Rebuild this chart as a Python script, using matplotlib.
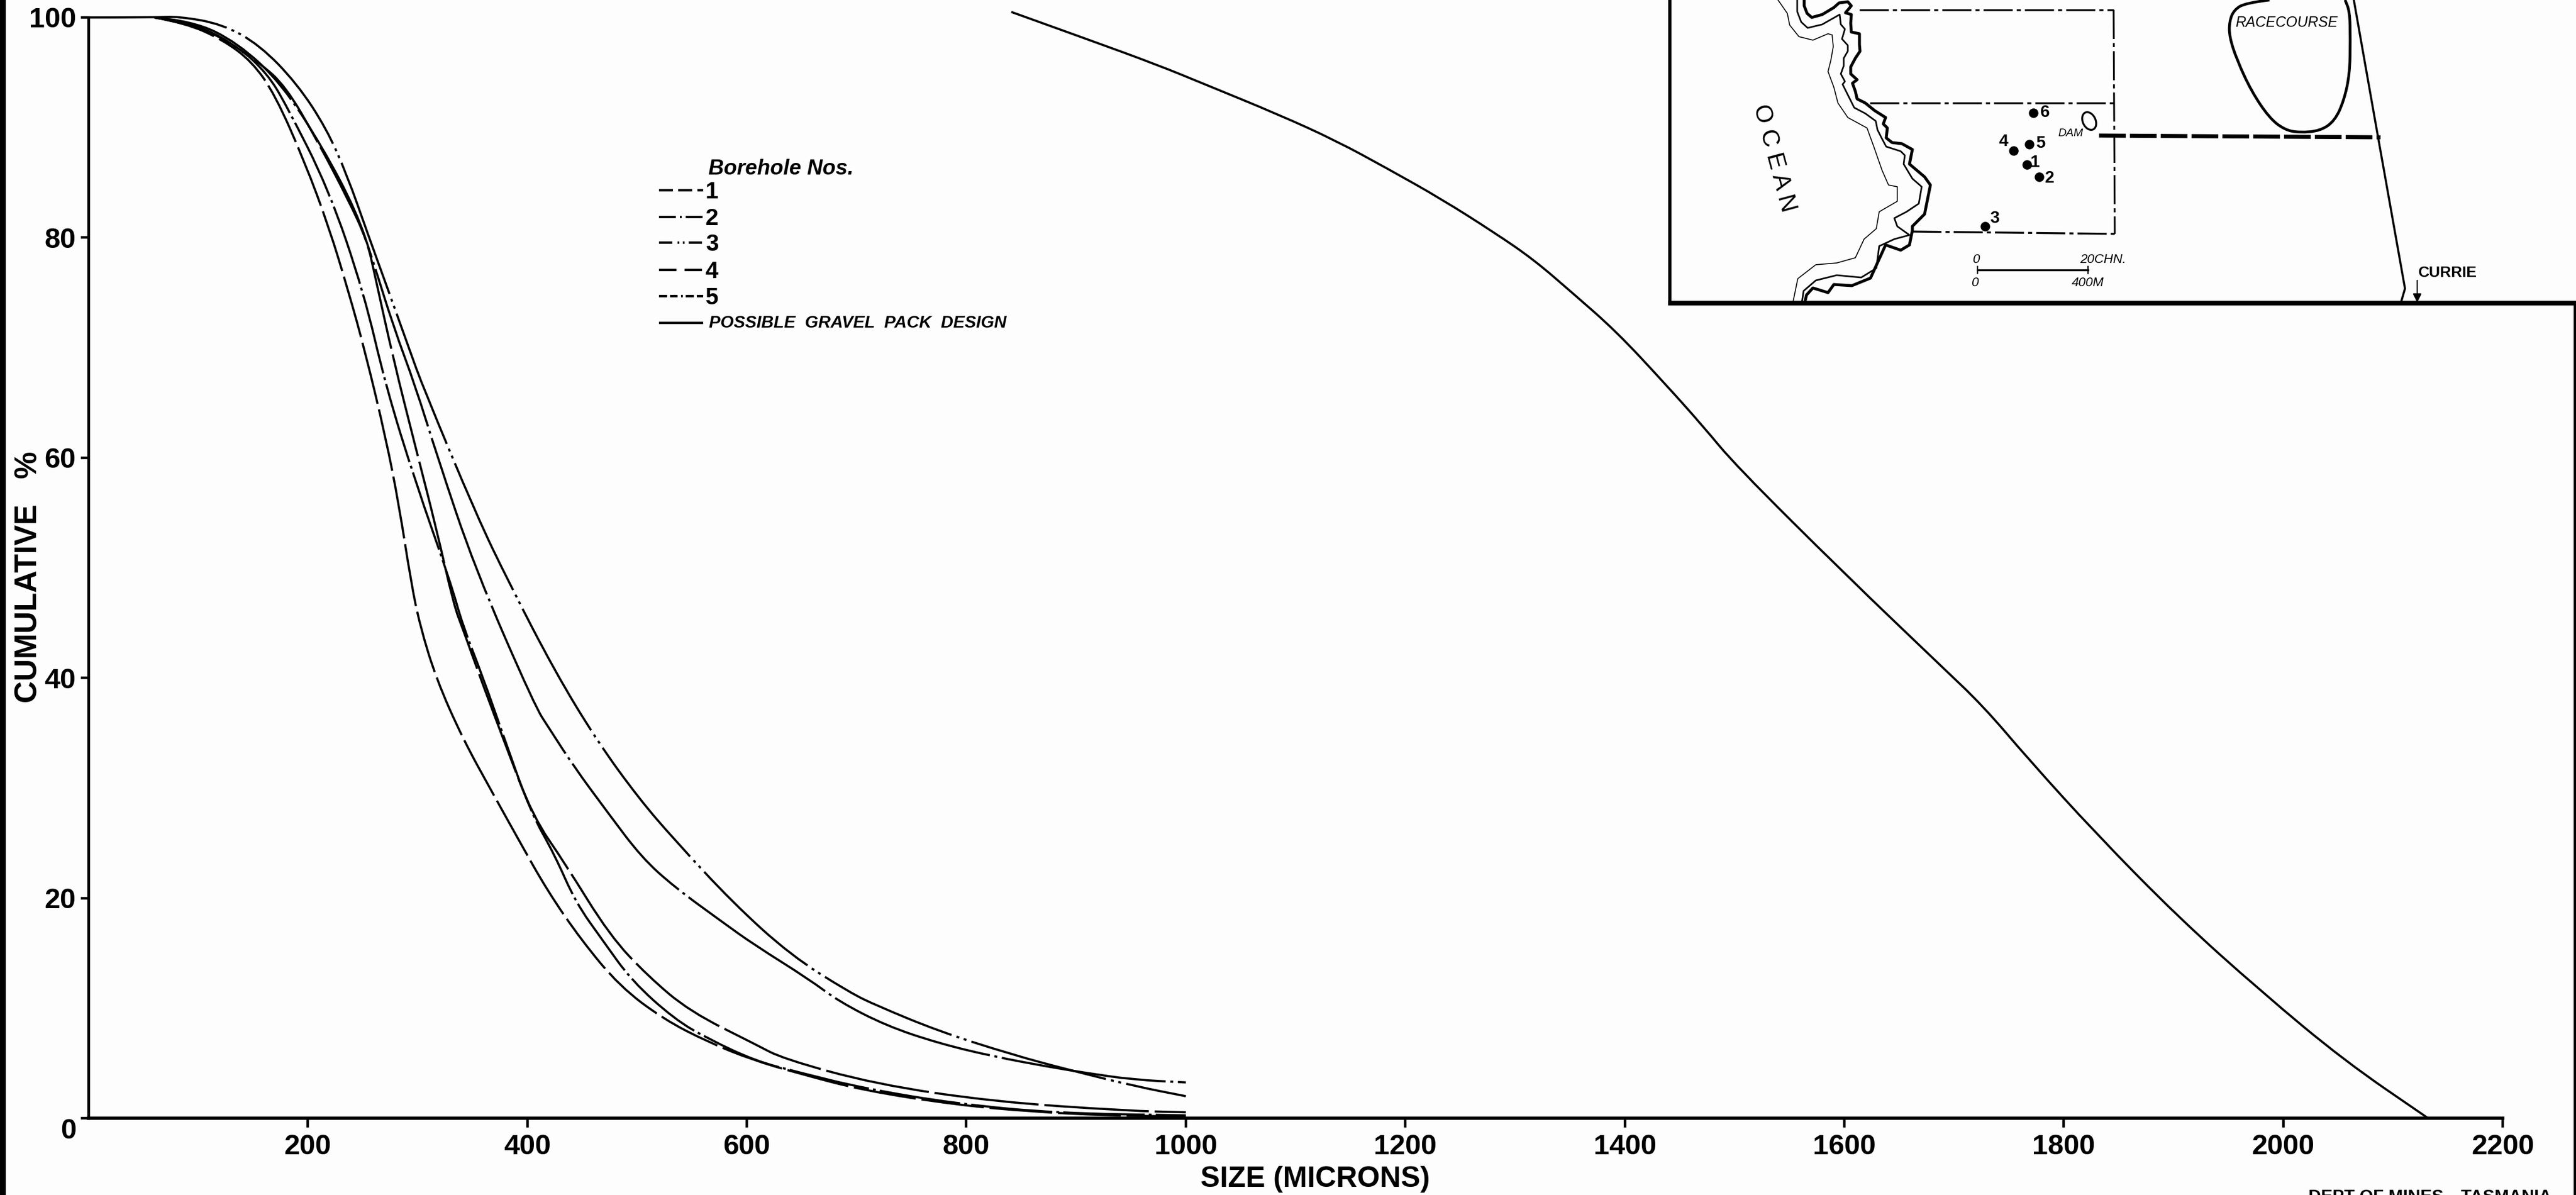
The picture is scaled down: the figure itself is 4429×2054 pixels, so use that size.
"""
Grading curves for the Currie boreholes, with the possible gravel pack design
and a small location map in the top right corner.
"""

import matplotlib
matplotlib.use("Agg")

import matplotlib.pyplot as plt
from matplotlib.patches import Ellipse, PathPatch, Rectangle
from matplotlib.path import Path

FONT = ["Liberation Sans", "DejaVu Sans"]

plt.rcParams["lines.scale_dashes"] = False

W, H = 4429, 2054
PT = 0.72  # pixels to points at dpi 100
PAPER = "#fdfdfd"

# -----------------------------
# Curves (size in microns, cumulative %)
# -----------------------------

size_bh1 = [60, 100, 156, 180, 207, 237, 254, 261, 278, 298, 317, 333, 341, 359, 379, 405, 434, 475, 510, 548, 608, 633, 717, 825, 947, 1000]
pct_bh1 = [100, 99.6, 95.9, 93.7, 89.1, 83.4, 79.7, 76.6, 68.9, 61, 53.6, 46.6, 44.5, 39.5, 34.2, 27.4, 23.2, 16.6, 12.9, 9.7, 6.7, 5.4, 3.1, 1.5, 0.67, 0.54]

size_bh2 = [60, 95, 136, 176, 214, 244, 259, 278, 298, 318, 352, 407, 420, 442, 473, 504, 534, 578, 606, 657, 684, 727, 775, 825, 876, 910, 952, 1000]
pct_bh2 = [100, 99.7, 97.7, 94, 88.1, 82.4, 78, 71.9, 66.5, 60.1, 50, 37.4, 35.4, 32, 27.8, 23.7, 21, 17.8, 15.8, 12.6, 10.6, 8.4, 6.8, 5.6, 4.65, 4.1, 3.5, 3.25]

size_bh3 = [0, 60, 82, 122, 156, 190, 217, 236, 254, 274, 293, 305, 354, 383, 425, 464, 502, 534, 587, 640, 694, 719, 775, 841, 893, 954, 1000]
pct_bh3 = [100, 100, 100.1, 99.4, 97.5, 94, 89.9, 85.6, 80.5, 75, 69.7, 66.4, 54.7, 48.7, 40.6, 34.2, 29, 25.3, 19.6, 14.8, 11.4, 10.2, 7.9, 5.8, 4.4, 2.9, 2.0]

size_bh4 = [60, 88, 122, 149, 170, 197, 219, 237, 252, 271, 283, 294, 302, 317, 341, 368, 392, 418, 449, 484, 524, 565, 605, 646, 707, 792, 859, 927, 1000]
pct_bh4 = [100, 99.5, 98, 96, 93, 86.9, 81, 75.1, 69.7, 61.8, 55.7, 48.7, 44.8, 39.9, 34.5, 29.6, 25.3, 20.7, 16.2, 12, 9, 6.9, 5.3, 4.1, 2.5, 1.2, 0.6, 0.25, 0.15]

size_bh5 = [60, 95, 136, 163, 180, 219, 251, 271, 298, 330, 341, 359, 379, 403, 425, 444, 469, 495, 534, 565, 608, 646, 707, 792, 883, 1000]
pct_bh5 = [100, 99.4, 97.4, 94.9, 92.1, 84.4, 75, 66.5, 57.8, 48.7, 44.8, 40.2, 34.5, 27.8, 23.9, 19.6, 16.1, 12.5, 9, 7.2, 5.2, 4.2, 2.7, 1.3, 0.45, 0.26]

size_design = [841, 908, 974, 1018, 1084, 1137, 1185, 1233, 1282, 1317, 1352, 1392, 1436, 1471, 1501, 1602, 1687, 1727, 1768, 1829, 1905, 1980, 2056, 2132]
pct_design = [100.5, 98.1, 95.7, 93.9, 91.2, 88.8, 86.2, 83.5, 80.4, 78, 75, 71.5, 66.8, 62.9, 59.3, 49.3, 41.2, 37.4, 32.6, 25.9, 18.2, 11.5, 5.2, 0]

x_ticks = [200, 400, 600, 800, 1000, 1200, 1400, 1600, 1800, 2000, 2200]
y_ticks = [0, 20, 40, 60, 80, 100]

legend_labels = ["1", "2", "3", "4", "5"]

# -----------------------------
# Location map, traced in picture pixels
# -----------------------------

coast_x = [3102, 3102, 3107, 3115, 3133, 3153, 3162, 3177, 3183, 3173, 3183, 3182, 3183, 3197, 3197, 3198, 3190, 3182, 3182, 3193, 3185, 3190, 3193, 3207, 3223, 3242, 3238, 3245, 3243, 3253, 3270, 3288, 3283, 3309, 3319, 3314, 3309, 3288, 3288, 3283, 3268, 3242, 3216, 3184, 3153, 3143, 3117, 3106, 3103]
coast_y = [0, 10, 23, 30, 25, 13, 5, 3, 10, 22, 25, 40, 55, 58, 77, 88, 100, 115, 127, 137, 143, 157, 170, 177, 190, 202, 213, 220, 237, 245, 247, 257, 282, 304, 318, 343, 368, 389, 396, 421, 430, 421, 478, 491, 489, 503, 495, 507, 520]

shelf_x = [3090, 3090, 3097, 3108, 3133, 3163, 3165, 3172, 3167, 3177, 3177, 3170, 3170, 3165, 3172, 3168, 3177, 3188, 3207, 3225, 3228, 3235, 3243, 3268, 3275, 3273, 3288, 3304, 3299, 3278, 3257, 3262, 3283, 3257, 3231, 3226, 3200, 3158, 3122, 3101, 3098]
shelf_y = [0, 20, 38, 48, 42, 25, 42, 50, 67, 78, 88, 100, 113, 127, 140, 145, 163, 185, 195, 208, 223, 237, 252, 260, 267, 282, 307, 321, 350, 364, 375, 389, 404, 411, 423, 461, 477, 473, 482, 500, 520]

reef_x = [3057, 3073, 3077, 3093, 3117, 3143, 3150, 3152, 3148, 3143, 3153, 3160, 3177, 3210, 3222, 3236, 3247, 3262, 3262, 3231, 3226, 3205, 3190, 3158, 3122, 3091, 3083]
reef_y = [0, 23, 43, 63, 69, 58, 60, 80, 103, 123, 150, 177, 202, 220, 253, 293, 318, 321, 346, 364, 393, 411, 443, 452, 455, 479, 518]

course_x = [3902, 3861, 3841, 3833, 3833, 3846, 3871, 3902, 3928, 3953, 3989, 4014, 4030, 4040, 4041, 4040, 4032]
course_y = [0, 5, 17, 37, 63, 103, 157, 203, 223, 228, 225, 208, 173, 127, 67, 20, 0]

road_x = [4047, 4088, 4135, 4128]
road_y = [0, 232, 496, 520]

bore_names = ["6", "4", "5", "1", "2", "3"]
bore_x = [3496, 3462, 3489, 3485, 3506, 3413]
bore_y = [194, 259, 248, 283, 304, 389]
bore_text_x = [3516, 3445, 3508, 3498, 3524, 3429]
bore_text_y = [193, 243, 246, 279, 306, 375]


def px_dashes(*pixels):
    return tuple(p * PT for p in pixels)


def smooth_curve(target, xs, ys, dashes=None, lw=2.7):
    # the read points become control points, so the pen line has no corners
    verts = [(xs[0], ys[0])]
    codes = [Path.MOVETO]
    for i in range(1, len(xs) - 1):
        verts += [(xs[i], ys[i]), ((xs[i] + xs[i + 1]) / 2, (ys[i] + ys[i + 1]) / 2)]
        codes += [Path.CURVE3, Path.CURVE3]
    verts.append((xs[-1], ys[-1]))
    codes.append(Path.LINETO)
    style = "-" if dashes is None else (0, dashes)
    target.add_patch(PathPatch(Path(verts, codes), fill=False, ec="black", lw=lw,
                               linestyle=style, capstyle="butt", joinstyle="round",
                               clip_on=False))


DASH = {
    "1": px_dashes(180, 10),
    "2": px_dashes(285, 8, 5, 8),
    "3": px_dashes(240, 9, 5, 8, 5, 9),
    "4": px_dashes(108, 10),
    "5": px_dashes(140, 7, 5, 7),
}

LEGEND_DASH = {
    "1": px_dashes(24, 9),
    "2": px_dashes(29, 7, 3, 7),
    "3": px_dashes(23, 9, 3, 6, 3, 7),
    "4": px_dashes(30, 14),
    "5": px_dashes(14, 5, 13, 6, 3, 5),
}

fig = plt.figure(figsize=(W / 100, H / 100), dpi=100, facecolor=PAPER)

ax = fig.add_axes([152 / W, 1 - 1922 / H, (4303 - 152) / W, (1922 - 30) / H])
ax.set_facecolor("none")

# -----------------------------
# Curves
# -----------------------------

curves = [
    (size_bh1, pct_bh1, "1"),
    (size_bh2, pct_bh2, "2"),
    (size_bh3, pct_bh3, "3"),
    (size_bh4, pct_bh4, "4"),
    (size_bh5, pct_bh5, "5"),
]

for sizes, pcts, name in curves:
    smooth_curve(ax, sizes, pcts, DASH[name])

smooth_curve(ax, size_design, pct_design)

# -----------------------------
# Axes
# -----------------------------

ax.set_xlim(0, 2200)
ax.set_ylim(0, 100)

for side in ("top", "right"):
    ax.spines[side].set_visible(False)
ax.spines["left"].set_linewidth(3.4)
ax.spines["bottom"].set_linewidth(4)

ax.set_xticks(x_ticks)
ax.set_yticks(y_ticks)
ax.tick_params(axis="x", length=16 * PT, width=3.2, pad=8)
ax.tick_params(axis="y", length=13 * PT, width=3.2, pad=6)

for label in ax.get_xticklabels() + ax.get_yticklabels():
    label.set_family(FONT)
    label.set_fontsize(35)
    label.set_fontweight("bold")
ax.get_yticklabels()[0].set_va("top")

# -----------------------------
# Everything placed by picture position
# -----------------------------

ov = fig.add_axes([0, 0, 1, 1])
ov.set_xlim(0, W)
ov.set_ylim(H, 0)
ov.axis("off")
ov.patch.set_alpha(0)

ov.add_patch(Rectangle((0, 0), 10, H, color="black", lw=0))
ov.add_patch(Rectangle((4425, 521), 4, H - 521, color="black", lw=0))

ov.text(2261, 2027, "SIZE (MICRONS)", family=FONT, fontsize=36, fontweight="bold",
        ha="center", va="center")
ov.text(50, 992, "CUMULATIVE   %", family=FONT, fontsize=38, fontweight="bold",
        rotation=90, ha="center", va="center")
ov.text(4178, 2043, "DEPT OF MINES\u2014TASMANIA", family=FONT, fontsize=21.5,
        fontweight="bold", ha="center", va="top")

# Legend
ov.text(1218, 291, "Borehole Nos.", family=FONT, style="italic", fontweight="bold",
        fontsize=26.5, ha="left", va="center")
legend_y = [327, 373, 417, 464, 509]
for name, row_y in zip(legend_labels, legend_y):
    ov.plot([1133, 1209], [row_y, row_y], color="black", lw=3, dashes=LEGEND_DASH[name],
            dash_capstyle="butt")
    ov.text(1224, row_y + 3, name, family=FONT, fontsize=29, fontweight="bold",
            ha="center", va="center")
ov.plot([1133, 1209], [555, 555], color="black", lw=3, solid_capstyle="butt")
ov.text(1219, 555, "POSSIBLE  GRAVEL  PACK  DESIGN", family=FONT, style="italic",
        fontweight="bold", fontsize=21.2, ha="left", va="center")

# Map frame
ov.plot([2871, 2871], [0, 521], color="black", lw=4, solid_capstyle="butt")
ov.plot([2868, W], [521, 521], color="black", lw=5.8, solid_capstyle="butt")

# Coast
ov.plot(coast_x, coast_y, color="black", lw=3.6, solid_joinstyle="round")
ov.plot(shelf_x, shelf_y, color="black", lw=2.0, solid_joinstyle="round")
ov.plot(reef_x, reef_y, color="black", lw=1.2, solid_joinstyle="round")

# Boundary lines
boundary = px_dashes(50, 7, 7, 7)
ov.plot([3197, 3634], [17, 17], color="black", lw=2.4, dashes=boundary, dash_capstyle="butt")
ov.plot([3215, 3634], [177, 177], color="black", lw=2.4, dashes=boundary, dash_capstyle="butt")
ov.plot([3288, 3636], [398, 402], color="black", lw=2.4, dashes=boundary, dash_capstyle="butt")
ov.plot([3634, 3636], [17, 402], color="black", lw=2.2, dashes=boundary, dash_capstyle="butt")

# Pipe line from the dam to the road
ov.plot([3609, 4093], [233, 236], color="black", lw=5, dashes=px_dashes(46, 7),
        dash_capstyle="butt")

smooth_curve(ov, course_x, course_y, lw=3.4)
ov.plot(road_x, road_y, color="black", lw=2.6)

ov.text(3931, 39, "RACECOURSE", family=FONT, style="italic", fontsize=18,
        ha="center", va="center")
ov.text(3050, 272, "O C E A N", family=FONT, fontsize=30, rotation=-75,
        rotation_mode="anchor", ha="center", va="center")
ov.add_patch(Ellipse((3592, 208), 22, 32, angle=-25, fill=False, ec="black", lw=2.4))
ov.text(3560, 230, "DAM", family=FONT, style="italic", fontsize=14, ha="center", va="center")

ov.plot(bore_x, bore_y, ls="none", marker="o", ms=15 * PT, color="black")
for name, tx, ty in zip(bore_names, bore_text_x, bore_text_y):
    ov.text(tx, ty, name, family=FONT, fontsize=21, fontweight="bold", ha="center", va="center")

# Scale bar
ov.plot([3400, 3590], [464, 464], color="black", lw=2.4)
ov.plot([3400, 3400], [458, 470], color="black", lw=1.6)
ov.plot([3590, 3590], [458, 470], color="black", lw=1.6)
ov.text(3397, 446, "0", family=FONT, style="italic", fontsize=16, ha="center", va="center")
ov.text(3616, 446, "20CHN.", family=FONT, style="italic", fontsize=16, ha="center", va="center")
ov.text(3395, 486, "0", family=FONT, style="italic", fontsize=16, ha="center", va="center")
ov.text(3590, 486, "400M", family=FONT, style="italic", fontsize=16, ha="center", va="center")

# Currie
ov.text(4208, 469, "CURRIE", family=FONT, fontsize=19, fontweight="bold", ha="center", va="center")
ov.annotate("", xy=(4156, 520), xytext=(4156, 482),
            arrowprops=dict(arrowstyle="-|>", color="black", lw=1.6, mutation_scale=22,
                            shrinkA=0, shrinkB=0))

plt.savefig("out.png", dpi=100, facecolor=PAPER)
plt.close("all")
